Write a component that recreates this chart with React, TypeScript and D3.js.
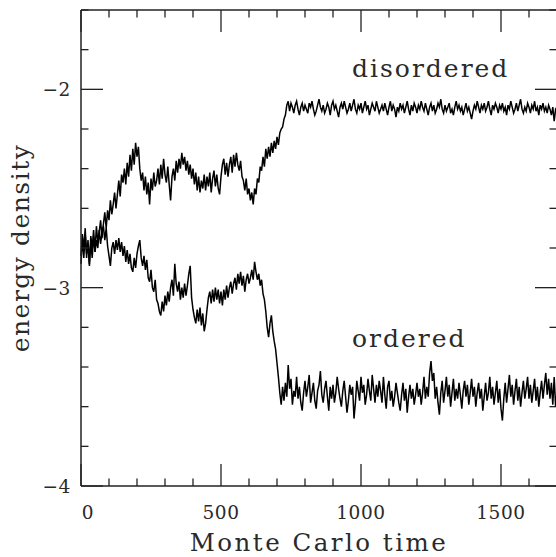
import React from "react";
import * as d3 from "d3";

const T_STEP = 5;

const disordered = [
  -2.84, -2.73, -2.81, -2.70, -2.85, -2.76, -2.88, -2.74, -2.80, -2.71, -2.82, -2.69, -2.77, -2.72, -2.66, -2.75, -2.68, -2.62, -2.70, -2.61,
  -2.66, -2.56, -2.63, -2.58, -2.52, -2.60, -2.53, -2.46, -2.54, -2.43, -2.47, -2.40, -2.48, -2.37, -2.44, -2.33, -2.41, -2.30, -2.38, -2.27,
  -2.34, -2.29, -2.40, -2.46, -2.42, -2.51, -2.44, -2.53, -2.47, -2.58, -2.45, -2.51, -2.42, -2.49, -2.46, -2.40, -2.48, -2.38, -2.45, -2.35,
  -2.43, -2.47, -2.39, -2.48, -2.56, -2.44, -2.40, -2.46, -2.36, -2.42, -2.35, -2.40, -2.32, -2.38, -2.34, -2.41, -2.36, -2.43, -2.38, -2.45,
  -2.40, -2.48, -2.42, -2.51, -2.44, -2.52, -2.46, -2.50, -2.43, -2.51, -2.44, -2.49, -2.42, -2.52, -2.45, -2.41, -2.49, -2.43, -2.50, -2.53,
  -2.44, -2.38, -2.35, -2.43, -2.37, -2.44, -2.38, -2.34, -2.42, -2.33, -2.39, -2.32, -2.38, -2.41, -2.36, -2.44, -2.46, -2.51, -2.45, -2.53,
  -2.50, -2.56, -2.52, -2.58, -2.50, -2.53, -2.45, -2.47, -2.39, -2.41, -2.34, -2.39, -2.30, -2.35, -2.29, -2.34, -2.27, -2.32, -2.26, -2.30,
  -2.24, -2.28, -2.22, -2.20, -2.19, -2.15, -2.13, -2.08, -2.06, -2.11, -2.07, -2.09, -2.12, -2.08, -2.06, -2.10, -2.13, -2.09, -2.07, -2.11,
  -2.08, -2.10, -2.12, -2.07, -2.09, -2.06, -2.10, -2.13, -2.11, -2.08, -2.05, -2.09, -2.11, -2.08, -2.12, -2.10, -2.07, -2.09, -2.13, -2.08,
  -2.06, -2.10, -2.08, -2.11, -2.14, -2.09, -2.07, -2.10, -2.06, -2.09, -2.12, -2.10, -2.07, -2.11, -2.08, -2.05, -2.10, -2.12, -2.08, -2.10,
  -2.07, -2.12, -2.09, -2.06, -2.10, -2.08, -2.13, -2.10, -2.07, -2.09, -2.11, -2.06, -2.09, -2.12, -2.10, -2.08, -2.11, -2.07, -2.10, -2.13,
  -2.09, -2.06, -2.11, -2.08, -2.10, -2.14, -2.09, -2.11, -2.07, -2.10, -2.08, -2.12, -2.09, -2.06, -2.10, -2.13, -2.08, -2.11, -2.07, -2.09,
  -2.12, -2.08, -2.10, -2.06, -2.09, -2.11, -2.07, -2.10, -2.13, -2.09, -2.07, -2.11, -2.08, -2.12, -2.10, -2.07, -2.09, -2.05, -2.10, -2.12,
  -2.08, -2.11, -2.09, -2.07, -2.12, -2.10, -2.13, -2.09, -2.06, -2.10, -2.08, -2.11, -2.09, -2.13, -2.10, -2.07, -2.11, -2.09, -2.12, -2.15,
  -2.11, -2.08, -2.10, -2.06, -2.09, -2.12, -2.08, -2.10, -2.07, -2.11, -2.09, -2.06, -2.10, -2.13, -2.08, -2.10, -2.07, -2.09, -2.12, -2.08,
  -2.10, -2.07, -2.11, -2.09, -2.13, -2.08, -2.10, -2.06, -2.09, -2.12, -2.10, -2.07, -2.11, -2.08, -2.05, -2.10, -2.12, -2.09, -2.11, -2.07,
  -2.09, -2.12, -2.08, -2.10, -2.06, -2.11, -2.09, -2.13, -2.08, -2.10, -2.07, -2.11, -2.09, -2.12, -2.08, -2.10, -2.13, -2.09, -2.16, -2.10,
  -2.11,
];

const ordered = [
  -2.88, -2.75, -2.85, -2.73, -2.83, -2.78, -2.89, -2.77, -2.85, -2.74, -2.82, -2.76, -2.80, -2.71, -2.78, -2.72, -2.69, -2.76, -2.70, -2.79,
  -2.84, -2.89, -2.80, -2.77, -2.83, -2.76, -2.81, -2.75, -2.82, -2.77, -2.84, -2.79, -2.87, -2.81, -2.88, -2.83, -2.90, -2.92, -2.85, -2.90,
  -2.83, -2.79, -2.76, -2.85, -2.89, -2.84, -2.91, -2.86, -2.95, -2.97, -2.91, -3.00, -3.02, -2.96, -3.06, -3.08, -3.12, -3.14, -3.07, -3.12,
  -3.04, -3.09, -3.02, -3.07, -3.00, -2.96, -3.04, -2.88, -2.98, -3.02, -2.97, -3.06, -3.00, -3.05, -2.98, -3.04, -2.99, -2.93, -2.89, -3.05,
  -3.11, -3.15, -3.18, -3.11, -3.17, -3.10, -3.19, -3.13, -3.22, -3.18, -3.11, -3.05, -3.02, -3.08, -3.01, -3.07, -3.00, -3.06, -3.01, -3.08,
  -3.02, -3.09, -3.01, -3.06, -2.99, -3.05, -3.00, -2.97, -3.03, -2.98, -2.95, -3.01, -2.93, -2.98, -2.92, -2.99, -2.94, -3.02, -2.96, -2.93,
  -2.98, -2.95, -2.91, -2.96, -2.87, -2.92, -2.96, -2.93, -2.99, -2.96, -3.03, -3.06, -3.12, -3.20, -3.25, -3.18, -3.14, -3.22, -3.27, -3.31,
  -3.38, -3.45, -3.53, -3.59, -3.50, -3.57, -3.48, -3.55, -3.39, -3.51, -3.46, -3.59, -3.52, -3.55, -3.45, -3.56, -3.50, -3.58, -3.62, -3.53,
  -3.47, -3.55, -3.50, -3.44, -3.58, -3.53, -3.48, -3.57, -3.61, -3.52, -3.49, -3.42, -3.54, -3.58, -3.51, -3.47, -3.55, -3.62, -3.50, -3.56,
  -3.49, -3.58, -3.53, -3.45, -3.51, -3.56, -3.60, -3.52, -3.47, -3.55, -3.63, -3.57, -3.49, -3.54, -3.50, -3.66, -3.58, -3.47, -3.52, -3.57,
  -3.45, -3.53, -3.49, -3.59, -3.54, -3.46, -3.52, -3.57, -3.44, -3.51, -3.58, -3.49, -3.55, -3.47, -3.52, -3.58, -3.45, -3.54, -3.61, -3.50,
  -3.47, -3.57, -3.52, -3.60, -3.55, -3.48, -3.53, -3.58, -3.62, -3.54, -3.48, -3.57, -3.51, -3.63, -3.55, -3.49, -3.56, -3.51, -3.59, -3.54,
  -3.48, -3.55, -3.51, -3.59, -3.53, -3.45, -3.56, -3.50, -3.55, -3.43, -3.37, -3.47, -3.43, -3.56, -3.50, -3.58, -3.64, -3.53, -3.47, -3.58,
  -3.52, -3.45, -3.55, -3.49, -3.60, -3.53, -3.46, -3.57, -3.51, -3.56, -3.48, -3.54, -3.61, -3.52, -3.47, -3.55, -3.49, -3.59, -3.53, -3.46,
  -3.55, -3.50, -3.60, -3.53, -3.48, -3.56, -3.51, -3.62, -3.55, -3.48, -3.57, -3.53, -3.45, -3.56, -3.50, -3.59, -3.53, -3.47, -3.58, -3.51,
  -3.61, -3.67, -3.56, -3.48, -3.58, -3.51, -3.44, -3.55, -3.49, -3.59, -3.52, -3.46, -3.57, -3.50, -3.60, -3.53, -3.47, -3.56, -3.51, -3.45,
  -3.56, -3.49, -3.58, -3.52, -3.46, -3.57, -3.50, -3.60, -3.53, -3.47, -3.56, -3.49, -3.43, -3.54, -3.46, -3.56, -3.48, -3.59, -3.45, -3.60,
  -3.52,
];

const xMajorTicks = [0, 500, 1000, 1500];
const yMajorTicks = [-4, -3, -2];
const xMinorStep = 100;
const yMinorStep = 0.2;
const seriesLabels = [
  { text: "disordered", t: 1000, v: -1.94 },
  { text: "ordered", t: 1000, v: -3.3 },
];

const W = 556;
const H = 557;
const FONT = "'DejaVu Serif', serif";

export default function App() {
  const x = d3.scaleLinear().domain([0, 1700]).range([81, 557]);
  const y = d3.scaleLinear().domain([-4, -1.6]).range([486, 10]);
  const [x0, x1] = x.range();
  const [y0, y1] = y.range();

  const line = d3
    .line<number>()
    .x((_, i) => x(i * T_STEP))
    .y((d) => y(d));

  const xMinor = d3.range(0, 1700 + 1e-9, xMinorStep);
  const yMinor = d3.range(0, 13).map((i) => -4 + i * yMinorStep);
  const isXMajor = (t: number) => xMajorTicks.some((m) => Math.abs(m - t) < 1e-6);
  const isYMajor = (v: number) => yMajorTicks.some((m) => Math.abs(m - v) < 1e-6);
  const MAJ = 22;
  const MIN = 7.5;
  const axisColor = "#222";
  const textColor = "#2a2a2a";

  return (
    <div style={{ position: "absolute", left: 0, top: 0 }}>
      <svg width={W} height={H} style={{ display: "block", background: "#fff" }}>
        {/* data */}
        <path d={line(disordered) || ""} fill="none" stroke="#000" strokeWidth={1.5} />
        <path d={line(ordered) || ""} fill="none" stroke="#000" strokeWidth={1.5} />

        {/* frame */}
        <g stroke={axisColor} strokeWidth={1.5} fill="none">
          <line x1={x0} x2={x1} y1={y0} y2={y0} />
          <line x1={x0} x2={x1} y1={y1} y2={y1} />
          <line x1={x0} x2={x0} y1={y0} y2={y1} />
          <line x1={x1} x2={x1} y1={y0} y2={y1} />
        </g>

        {/* ticks on all four sides */}
        <g stroke={axisColor} strokeWidth={1.3}>
          {xMinor.map((t) => {
            const len = isXMajor(t) ? MAJ : MIN;
            const px = x(t);
            return (
              <g key={"xt" + t}>
                <line x1={px} x2={px} y1={y0} y2={y0 - len} />
                <line x1={px} x2={px} y1={y1} y2={y1 + len} />
              </g>
            );
          })}
          {yMinor.map((v) => {
            const len = isYMajor(v) ? MAJ : MIN;
            const py = y(v);
            return (
              <g key={"yt" + v.toFixed(2)}>
                <line x1={x0} x2={x0 + len} y1={py} y2={py} />
                <line x1={x1} x2={x1 - len} y1={py} y2={py} />
              </g>
            );
          })}
        </g>

        {/* tick labels */}
        <g fontFamily={FONT} fontSize={18.5} fill={textColor} letterSpacing={0.6}>
          {xMajorTicks.map((t) => (
            <text key={"xl" + t} x={x(t) + (t === 0 ? 7 : 0)} y={519} textAnchor="middle">
              {String(t)}
            </text>
          ))}
          {yMajorTicks.map((v) => (
            <text key={"yl" + v} x={71} y={y(v) + 7} textAnchor="end">
              {"\u2212" + String(Math.abs(v))}
            </text>
          ))}
        </g>

        {/* axis titles */}
        <text
          x={(x0 + x1) / 2}
          y={551}
          textAnchor="middle"
          fontFamily={FONT}
          fontSize={24.5}
          letterSpacing={2.5}
          fill={textColor}
        >
          Monte Carlo time
        </text>
        <text
          transform={`translate(29, ${(y0 + y1) / 2}) rotate(-90)`}
          textAnchor="middle"
          fontFamily={FONT}
          fontSize={25}
          letterSpacing={1.5}
          fill={textColor}
        >
          energy density
        </text>

        {/* series labels */}
        {seriesLabels.map((s) => (
          <text
            key={s.text}
            x={x(s.t) - 9}
            y={y(s.v)}
            fontFamily={FONT}
            fontSize={25}
            letterSpacing={2}
            fill={textColor}
          >
            {s.text}
          </text>
        ))}
      </svg>
    </div>
  );
}
